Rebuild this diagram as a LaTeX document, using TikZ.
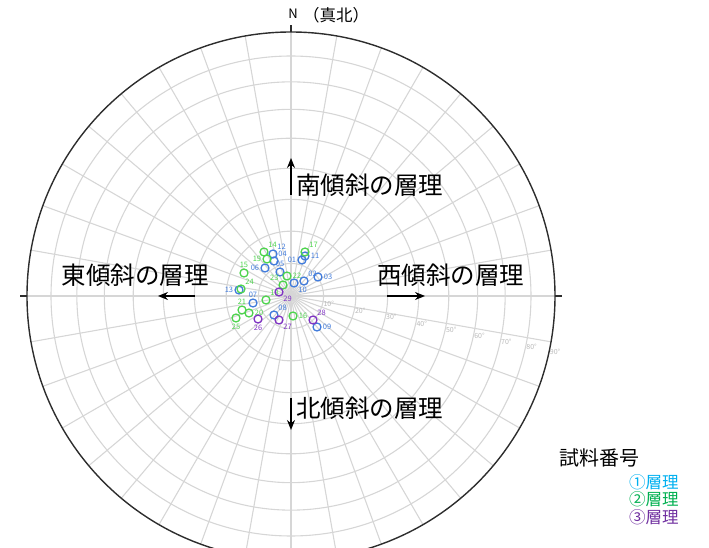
\documentclass[tikz,border=0pt]{standalone}
\usepackage{fontspec}
\setmainfont{Noto Sans CJK JP}
\usetikzlibrary{arrows.meta}
\definecolor{netgray}{RGB}{214,214,214}
\definecolor{rimgray}{RGB}{45,45,45}
\definecolor{deggray}{RGB}{185,185,185}
\definecolor{ptblue}{RGB}{66,124,220}
\definecolor{ptgreen}{RGB}{78,212,78}
\definecolor{ptpurple}{RGB}{128,52,196}
\definecolor{lgblue}{RGB}{0,176,240}
\definecolor{lggreen}{RGB}{0,176,80}
\definecolor{lgpurple}{RGB}{112,48,160}
\newcommand{\netrad}{264}

\begin{document}
\begin{tikzpicture}[x=1pt,y=1pt,>={Stealth[length=10pt,width=8pt]},font=\fontsize{24.5}{28}\selectfont,
	netline/.style={netgray,line width=1.1pt},
	dipnote/.style={inner sep=0pt},
	diparrow/.style={->,line width=1.4pt},
	degnote/.style={deggray,inner sep=0pt,font=\fontsize{7}{8}\selectfont},
	smpl/.style={circle,draw,line width=1.3pt,minimum size=8pt,inner sep=0pt,label distance=-2pt},
	layerA/.style={smpl,ptblue},layerB/.style={smpl,ptgreen},layerC/.style={smpl,ptpurple},
	num/.style={inner sep=1pt,font=\fontsize{7.5}{8}\selectfont}]
	\useasboundingbox (-291,-252) rectangle (418,296);
	\clip (-291,-252) rectangle (418,296);
	\coordinate (O) at (0,0);
	\foreach \t in {10,20,...,80} \draw[netline] (O) circle ({\netrad*sqrt(2)*sin(\t/2)});
	\foreach \a in {0,10,...,350} \draw[netline] (O) -- (\a:\netrad);
	\draw[rimgray,line width=1.4pt] (O) circle (\netrad);
	\foreach \a in {0,90,180,270} \draw[rimgray,line width=1.2pt] (\a:\netrad) -- (\a:\netrad+7);
	\foreach \t in {10,20,...,90} \node[degnote] (deg\t) at (-12:{\netrad*sqrt(2)*sin(\t/2)+6}) {\t°};
	\node[inner sep=0pt,font=\fontsize{13}{14}\selectfont] (nmark) at (2,282) {N};
	\node[anchor=west,inner sep=0pt,font=\fontsize{16.5}{18}\selectfont] (truenorth) at (12,281) {（真北）};
	\coordinate (sdip0) at (0,101); \coordinate (sdip1) at (0,138);
	\coordinate (ndip0) at (0,-102); \coordinate (ndip1) at (0,-134);
	\coordinate (edip0) at (-96,0); \coordinate (edip1) at (-133,0);
	\coordinate (wdip0) at (96,0); \coordinate (wdip1) at (134,0);
	\draw[diparrow] (sdip0) -- (sdip1);
	\draw[diparrow] (ndip0) -- (ndip1);
	\draw[diparrow] (edip0) -- (edip1);
	\draw[diparrow] (wdip0) -- (wdip1);
	\node[dipnote,anchor=west] (sdip) at (5,111) {南傾斜の層理};
	\node[dipnote,anchor=west] (ndip) at (5,-112) {北傾斜の層理};
	\node[dipnote,anchor=west] (wdip) at (86,21) {西傾斜の層理};
	\node[dipnote,anchor=east] (edip) at (-82,21) {東傾斜の層理};
	\foreach \n/\x/\y/\d in {01/302/260/left,02/304/281/above right,03/318/277/right,04/274/261/above right,
		05/280/272/above,06/265/268/left,07/253/303/above,08/274/315/above right,09/317/327/right,
		10/294/283/below right,11/305/256/right,12/273/254/above right,13/239/290/left}
		\node[layerA,label={[num,ptblue]\d:\n}] (s\n) at (\x-291,296-\y) {};
	\foreach \n/\x/\y/\d in {14/264/252/above right,15/244/273/above,16/293/316/right,17/305/252/above right,
		18/266/300/above right,19/267/259/left,20/249/313/right,21/242/310/above,22/287/276/right,
		23/283/285/above left,24/241/289/above right,25/236/318/below}
		\node[layerB,label={[num,ptgreen]\d:\n}] (s\n) at (\x-291,296-\y) {};
	\foreach \n/\x/\y/\d in {26/258/319/below,27/279/320/below right,28/313/320/above right,29/279/292/below right}
		\node[layerC,label={[num,ptpurple]\d:\n}] (s\n) at (\x-291,296-\y) {};
	\node[dipnote,anchor=west,font=\fontsize{20}{24}\selectfont] (sampleno) at (268,-162) {試料番号};
	\node[dipnote,anchor=west,lgblue,font=\fontsize{16.5}{18}\selectfont] (lay1) at (338,-186) {①層理};
	\node[dipnote,anchor=west,lggreen,font=\fontsize{16.5}{18}\selectfont] (lay2) at (338,-203.5) {②層理};
	\node[dipnote,anchor=west,lgpurple,font=\fontsize{16.5}{18}\selectfont] (lay3) at (338,-221) {③層理};
\end{tikzpicture}
\end{document}
